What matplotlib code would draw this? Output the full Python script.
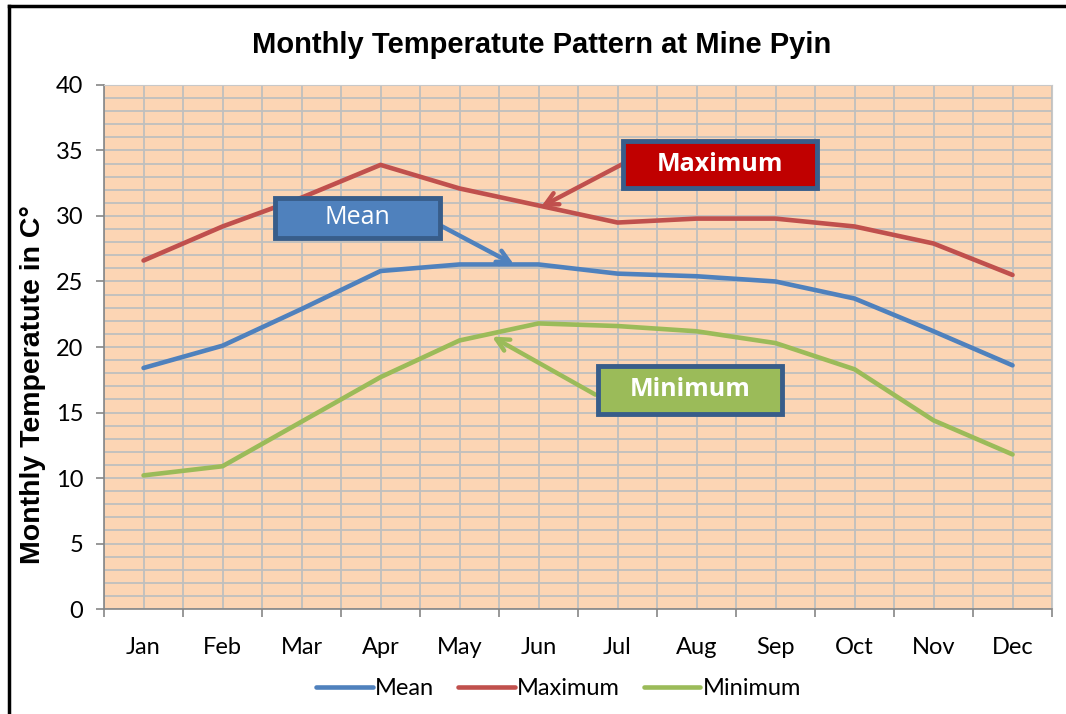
import matplotlib.pyplot as plt
import matplotlib.lines as mlines
from matplotlib.patches import Rectangle
from matplotlib.ticker import MultipleLocator, FixedLocator
import numpy as np

months = ['Jan', 'Feb', 'Mar', 'Apr', 'May', 'Jun', 'Jul', 'Aug', 'Sep', 'Oct', 'Nov', 'Dec']
mean_t = [18.4, 20.1, 22.9, 25.8, 26.3, 26.3, 25.6, 25.4, 25.0, 23.7, 21.2, 18.6]
max_t = [26.6, 29.2, 31.4, 33.9, 32.1, 30.8, 29.5, 29.8, 29.8, 29.2, 27.9, 25.5]
min_t = [10.2, 10.9, 14.3, 17.7, 20.5, 21.8, 21.6, 21.2, 20.3, 18.3, 14.4, 11.8]

blue = '#4F81BD'
red = '#C0504D'
green = '#9BBB59'
edge = '#385D8A'
body_font = 'Lato'
head_font = 'Liberation Sans'

fig = plt.figure(figsize=(10.66, 7.14), dpi=100)
ax = fig.add_axes([0.0976, 0.147, 0.8893, 0.734])
ax.set_facecolor('#FCD5B4')

x = np.arange(len(months))
ax.plot(x, mean_t, color=blue, lw=3.3, label='Mean', solid_capstyle='round', zorder=3)
ax.plot(x, max_t, color=red, lw=3.3, label='Maximum', solid_capstyle='round', zorder=3)
ax.plot(x, min_t, color=green, lw=3.3, label='Minimum', solid_capstyle='round', zorder=3)

ax.set_xlim(-0.5, len(months) - 0.5)
ax.set_ylim(0, 40)

# boundaries = major ticks, month centres = minor ticks carrying labels
ax.xaxis.set_major_locator(FixedLocator(np.arange(-0.5, len(months), 1.0)))
ax.xaxis.set_minor_locator(FixedLocator(x))
ax.set_xticklabels([], minor=False)
ax.set_xticklabels(months, minor=True, fontsize=17, family=body_font)
ax.tick_params(axis='x', which='major', length=6, color='#868686', width=1.2)
ax.tick_params(axis='x', which='minor', length=0, pad=20)
ax.yaxis.set_major_locator(MultipleLocator(5))
ax.yaxis.set_minor_locator(MultipleLocator(1))
ax.tick_params(axis='y', which='major', length=6, color='#868686', width=1.2, labelsize=17, pad=9)
ax.tick_params(axis='y', which='minor', length=0)
for lab in ax.get_yticklabels():
    lab.set_family(body_font)

ax.grid(True, which='both', color='#BFBFBF', lw=1.3, zorder=0)
ax.set_axisbelow(True)
for s in ['top', 'right']:
    ax.spines[s].set_color('#C8C8C8')
for s in ['left', 'bottom']:
    ax.spines[s].set_color('#868686')
    ax.spines[s].set_linewidth(1.2)

fig.text(0.508, 0.937, 'Monthly Temperatute Pattern at Mine Pyin', ha='center', va='center',
         fontsize=21, fontweight='bold', family=head_font)
fig.text(0.031, 0.461, 'Monthly Temperatute in C°', rotation=90, ha='center', va='center',
         fontsize=20.5, fontweight='bold', family=head_font)

# callout boxes and arrows
def callout(cx, cy, w, h, fill, text, bold, start, end, acol):
    ax.add_patch(Rectangle((cx - w / 2, cy - h / 2), w, h, facecolor=fill, edgecolor=edge,
                           lw=3.5, zorder=5))
    ax.text(cx, cy, text, ha='center', va='center', color='white', fontsize=18,
            family='Open Sans', fontweight='bold' if bold else 'normal', zorder=6)
    ax.annotate('', xy=end, xytext=start,
                arrowprops=dict(arrowstyle='->,head_length=0.9,head_width=0.45', color=acol, lw=3.2),
                zorder=4)

callout(2.71, 29.85, 2.08, 3.05, blue, 'Mean', False, (3.75, 29.3), (4.72, 26.2), blue)
callout(7.30, 33.95, 2.45, 3.6, '#C00000', 'Maximum', True, (6.09, 34.05), (5.0, 30.6), red)
callout(6.92, 16.72, 2.33, 3.6, green, 'Minimum', True, (5.75, 16.26), (4.38, 20.9), green)

leg = fig.legend(loc='center', bbox_to_anchor=(0.524, 0.036), ncol=3, frameon=False,
                 prop={'family': body_font, 'size': 17}, handlelength=2.4, handletextpad=0.1,
                 columnspacing=1.0)

# outer frame, cropped on the right and bottom
fig.add_artist(mlines.Line2D([0.0084, 0.0084], [0, 0.9916], color='black', lw=2.5,
                             transform=fig.transFigure))
fig.add_artist(mlines.Line2D([0.0084, 1.0], [0.9916, 0.9916], color='black', lw=2.5,
                             transform=fig.transFigure))

fig.savefig('out.png', dpi=100)
